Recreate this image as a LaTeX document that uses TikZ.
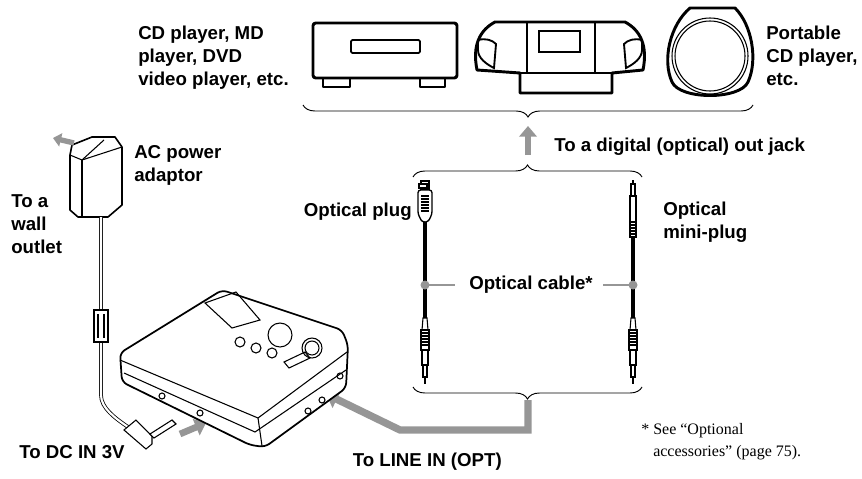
\documentclass[tikz,border=0pt]{standalone}
\usepackage{fontspec}
\setmainfont{Liberation Serif}
\setsansfont{Liberation Sans}
\usetikzlibrary{decorations.pathreplacing,arrows.meta}
\definecolor{arrowgray}{RGB}{150,150,150}
\tikzset{
  lbl/.style={font=\sffamily\bfseries\fontsize{14}{17.25}\selectfont, inner sep=0.75pt, align=left},
  note/.style={font=\rmfamily\fontsize{12}{16.5}\selectfont, inner sep=0.75pt, align=left},
  outline/.style={line width=2.2pt, line join=round},
  thin/.style={line width=0.8pt},
  brace/.style={decorate, decoration={brace, amplitude=9pt}, line width=0.7pt},
  callout/.style={draw=arrowgray, line width=2pt},
}
\begin{document}
\begin{tikzpicture}[x=0.75pt,y=0.75pt,yscale=-1,xscale=1]
\useasboundingbox (0,0) rectangle (862,478);

%CD player
\draw [outline, rounded corners=2pt] (313,23) rectangle (457,78);
\draw [line width=1.4pt, rounded corners=1pt] (351,40) rectangle (420,53);
\draw [outline] (323,78) -- (323,87) -- (350,87) -- (350,78);
\draw [outline] (420,78) -- (420,87) -- (445,87) -- (445,78);
%Boombox
\draw [outline] (495,22) -- (625,22) .. controls (640,30) and (648,45) .. (643,70) -- (612,73) -- (612,93) -- (520,93) -- (520,73) -- (477,70) .. controls (472,45) and (480,30) .. (495,22) -- cycle;
\draw [thin] (527,22) -- (527,73) -- (520,73);
\draw [thin] (595,22) -- (595,73) -- (612,73);
\draw [thin] (520,73) -- (612,73);
\draw [line width=1.4pt] (539,31) rectangle (580,52);
\draw [line width=1.4pt] (478,40) .. controls (486,38) and (492,40) .. (496,44) -- (494,68) .. controls (486,64) and (478,58) .. (478,50) -- cycle;
\draw [line width=1.4pt] (642,40) .. controls (634,38) and (628,40) .. (624,44) -- (626,68) .. controls (634,64) and (642,58) .. (642,50) -- cycle;
%Portable CD player
\draw [outline] (690,8) -- (735,8) .. controls (752,25) and (758,60) .. (748,82) .. controls (740,100) and (680,100) .. (672,82) .. controls (662,60) and (670,25) .. (690,8) -- cycle;
\draw [thin] (710,56) circle (38);
\draw [thin] (710,56) circle (35);

% Text Node
\node (src) [lbl, anchor=north west] at (137,25) {CD player, MD\\player, DVD\\video player, etc.};
% Text Node
\node (portable) [lbl, anchor=north west] at (765,25) {Portable\\CD player,\\etc.};

%Braces
\draw [brace] (753,105) -- (303,105);
\draw [brace] (413,177) -- (642,177);
\draw [brace] (642,387) -- (413,387);
\draw [draw=arrowgray, line width=5pt, -{Triangle[length=8pt,width=13pt]}] (528,155) -- (528,126);
\node (jack) [lbl, anchor=west] at (553,147) {To a digital (optical) out jack};

%Optical cable
\coordinate (lcab) at (425,285);
\coordinate (rcab) at (633,285);
\draw [line width=2.6pt] (425,222) -- (425,322);
\draw [line width=2.6pt] (633,232) -- (633,322);
%optical plug
\draw [thin, fill=white] (421,181) rectangle (429,190);
\draw [thin, fill=white] (419,184) rectangle (427,188);
\draw [line width=1pt, fill=white, rounded corners=2pt] (418,190) -- (432,190) -- (432,214) -- (428,222) -- (422,222) -- (418,214) -- cycle;
\foreach \y in {196,199,...,211} \draw [thin] (421,\y) -- (429,\y);
%mini plug
\draw [thin] (633,180) -- (633,196);
\draw [thin, fill=white] (631,184) rectangle (635,196);
\draw [thin, fill=white] (630,196) rectangle (636,222);
\foreach \y in {222,225,...,234} \draw [thin, fill=white] (630,\y) rectangle (636,\y+3);
\foreach \x in {425,633} {
  \draw [thin, fill=white] (\x-2,318) -- (\x+2,318) -- (\x+3,330) -- (\x-3,330) -- cycle;
  \draw [thin, fill=white] (\x-4,330) rectangle (\x+4,350);
  \foreach \y in {333,336,...,347} \draw [thin] (\x-4,\y) -- (\x+4,\y);
  \draw [thin, fill=white] (\x-3,350) rectangle (\x+3,365);
  \draw [thin, fill=white] (\x-2,365) rectangle (\x+2,377);
  \draw [thin] (\x,377) -- (\x,384);
}
\node (optplug) [lbl, anchor=east] at (413,212) {Optical plug};
\node (miniplug) [lbl, anchor=north west] at (662,201) {Optical\\mini-plug};
\node (cable) [lbl] at (531,285) {Optical cable*};
\draw [callout] (lcab) -- (455,285);
\draw [callout] (603,285) -- (rcab);
\fill [arrowgray] (lcab) circle (4.5) (rcab) circle (4.5);

%Gray path to LINE IN
\draw [draw=arrowgray, line width=5.5pt, line join=miter, -{Triangle[length=9pt,width=14pt]}] (528,400) -- (528,430) -- (400,430) -- (326,394);
\node (linein) [lbl, anchor=east] at (503,462) {To LINE IN (OPT)};

%AC adaptor
\draw [line width=1.2pt, line join=round, fill=white] (72,145) -- (92,137) -- (115,137) -- (122,147) -- (122,205) -- (108,217) -- (78,217) -- (70,210) -- (70,155) -- cycle;
\draw [thin] (82,160) -- (104,140);
\draw [thin] (82,160) -- (82,216);
\draw [thin] (70,155) -- (82,160) -- (122,147);
\draw [draw=arrowgray, line width=4pt, -{Triangle[length=6pt,width=10pt]}] (74,143) -- (53,138);
\node (acadapt) [lbl, anchor=north west] at (133,144) {AC power\\adaptor};
\node (wall) [lbl, anchor=north west] at (10,193) {To a\\wall\\outlet};
%cord
\draw [line width=0.6pt, double distance=1.6pt] (101,217) -- (101,395) .. controls (101,408) and (115,418) .. (128,427);
\draw [thin, fill=white] (94,310) rectangle (108,342);
\draw [thin] (98,314) -- (98,338) (104,314) -- (104,338);
\draw [thin, fill=white] (124,430) -- (136,420) -- (152,436) -- (152,444) -- (146,449) -- cycle;
\draw [thin, fill=white] (150,434) -- (172,420) -- (176,424) -- (154,438) -- cycle;
\draw [draw=arrowgray, line width=5pt, -{Triangle[length=8pt,width=13pt]}] (180,434) -- (206,423);
\node (dcin) [lbl, anchor=west] at (18,452) {To DC IN 3V};

%MD recorder body
\draw [line width=1.3pt, line join=round, rounded corners=4pt, fill=white] (120,353) -- (222,290) -- (342,330) -- (348,345) -- (346,388) -- (265,447) -- (250,445) -- (122,382) -- cycle;
\draw [thin] (120,360) -- (258,418) -- (347,352);
\draw [thin] (258,418) -- (262,446);
\draw [thin] (124,373) -- (255,432) -- (346,370);
\draw [thin] (205,303) -- (236,292) -- (260,320) -- (232,328) -- cycle;
\draw [thin] (280,335) circle (12);
\foreach \x/\y in {240/342,256/348,272/353} \draw [thin] (\x,\y) circle (5);
\draw [thin] (284,362) -- (305,352) -- (310,358) -- (289,368) -- cycle;
\draw [thin] (312,348) circle (10);
\draw [thin] (312,348) circle (7);
\foreach \x/\y in {162/396,200/413,308/411,322/400,340/376} \draw [thin] (\x,\y) circle (3);

% Footnote
\node (footnote) [note, anchor=north west] at (640,422) {* See “Optional\\\hspace*{0.75em}accessories” (page 75).};
\end{tikzpicture}
\end{document}
